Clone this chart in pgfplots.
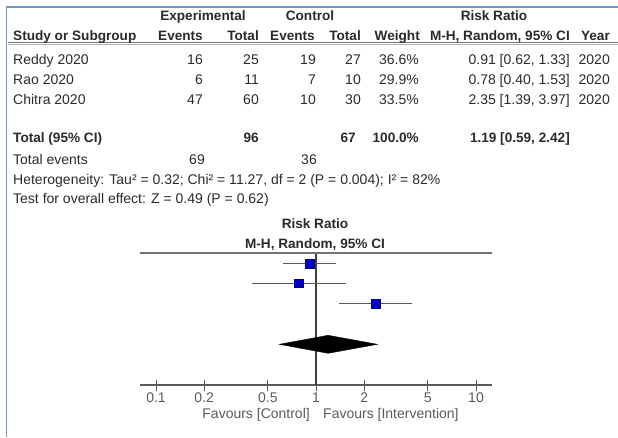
\documentclass[border=0pt]{standalone}
\usepackage{pgfplots}
\pgfplotsset{compat=1.18}
\usepackage{fontspec}
\setmainfont{Liberation Sans}
\definecolor{txt}{HTML}{2A2A2A}
\definecolor{bord}{HTML}{7096C8}
\definecolor{lgray}{HTML}{5A5A5A}
\definecolor{sqblue}{HTML}{0000C8}
\newcommand\fs{\fontsize{14}{16}\selectfont}
\newcommand\fb{\fontsize{13.6}{16}\selectfont}
\newcommand\T[4]{\node[anchor=#3] at (#1,#2) {#4};}
\newcommand\B[4]{\node[anchor=#3] at (#1,#2) {\fb\bfseries #4};}

\begin{document}
\begin{tikzpicture}
\useasboundingbox (0,0) rectangle (618pt,-437pt);
\begin{scope}[x=1pt,y=-1pt, every node/.style={font=\fs, text=txt, inner sep=0pt}]
% frame
\draw[bord, line width=1.5pt] (6,7) -- (618,7);
\draw[bord, line width=1.5pt] (6.5,7) -- (6.5,437);
\draw[black!55, line width=1.6pt] (8,42.5) -- (618,42.5);
\draw[black!30, line width=1pt] (8,44.6) -- (618,44.6);
% headers
\B{203}{20}{base}{Experimental}
\B{310}{20}{base}{Control}
\B{494}{20}{base}{Risk Ratio}
\B{13}{40}{base west}{Study or Subgroup}
\B{203}{40}{base east}{Events}
\B{259}{40}{base east}{Total}
\B{315}{40}{base east}{Events}
\B{361}{40}{base east}{Total}
\B{420}{40}{base east}{Weight}
\B{570}{40}{base east}{M-H, Random, 95\% CI}
\B{610}{40}{base east}{Year}
% rows
\T{13}{64.5}{base west}{Reddy 2020}
\T{203}{64.5}{base east}{16}
\T{259}{64.5}{base east}{25}
\T{316}{64.5}{base east}{19}
\T{361}{64.5}{base east}{27}
\T{419}{64.5}{base east}{36.6\%}
\T{570}{64.5}{base east}{0.91 [0.62, 1.33]}
\T{610}{64.5}{base east}{2020}
\T{13}{84.5}{base west}{Rao 2020}
\T{203}{84.5}{base east}{6}
\T{259}{84.5}{base east}{11}
\T{316}{84.5}{base east}{7}
\T{361}{84.5}{base east}{10}
\T{419}{84.5}{base east}{29.9\%}
\T{570}{84.5}{base east}{0.78 [0.40, 1.53]}
\T{610}{84.5}{base east}{2020}
\T{13}{104.5}{base west}{Chitra 2020}
\T{203}{104.5}{base east}{47}
\T{259}{104.5}{base east}{60}
\T{316}{104.5}{base east}{10}
\T{361}{104.5}{base east}{30}
\T{419}{104.5}{base east}{33.5\%}
\T{570}{104.5}{base east}{2.35 [1.39, 3.97]}
\T{610}{104.5}{base east}{2020}
% total
\B{13}{142}{base west}{Total (95\% CI)}
\B{259}{142}{base east}{96}
\B{356}{142}{base east}{67}
\B{419}{142}{base east}{100.0\%}
\B{570}{142}{base east}{1.19 [0.59, 2.42]}
\T{13}{164.5}{base west}{Total events}
\T{205}{164.5}{base east}{69}
\T{317}{164.5}{base east}{36}
\T{13}{184}{base west}{Heterogeneity: Tau² = 0.32; Chi² = 11.27, df = 2 (P = 0.004); I² = 82\%}
\T{13}{203.5}{base west}{Test for overall effect: Z = 0.49 (P = 0.62)}
% plot headers
\B{315}{228}{base}{Risk Ratio}
\B{315}{248}{base}{M-H, Random, 95\% CI}
\node[anchor=base east, text=lgray] at (310,418) {Favours [Control]};
\node[anchor=base west, text=lgray] at (323,418) {Favours [Intervention]};
\end{scope}

\begin{axis}[at={(140pt,-385pt)}, anchor=south west, scale only axis,
  width=352pt, height=132pt, xmode=log, xmin=0.079433, xmax=12.589,
  ymin=-385, ymax=-253, axis x line*=bottom, axis y line=none,
  xtick={0.1,0.2,0.5,1,2,5,10}, xticklabels={0.1,0.2,0.5,1,2,5,10},
  minor xtick={}, tick align=center, major tick length=11pt,
  x axis line style={lgray, line width=1.4pt, -},
  xtick style={lgray, line width=1pt},
  xticklabel style={font=\fs, text=lgray, anchor=north, inner sep=0pt, yshift=-2pt},
  clip=false]
\addplot[black!75, line width=1.2pt] coordinates {(1,-385) (1,-253)};
\addplot[black!55, line width=2pt] coordinates {(0.079433,-253) (12.589,-253)};
\addplot[lgray, line width=1.3pt] coordinates {(0.62,-263.3) (1.33,-263.3)};
\addplot[lgray, line width=1.3pt] coordinates {(0.40,-283.3) (1.53,-283.3)};
\addplot[lgray, line width=1.3pt] coordinates {(1.39,-303.3) (3.97,-303.3)};
\addplot[only marks, mark=square*, mark size=4.6pt, mark options={fill=sqblue, draw=sqblue!70!black}] coordinates {(0.91,-263.3)};
\addplot[only marks, mark=square*, mark size=4.1pt, mark options={fill=sqblue, draw=sqblue!70!black}] coordinates {(0.78,-283.3)};
\addplot[only marks, mark=square*, mark size=4.4pt, mark options={fill=sqblue, draw=sqblue!70!black}] coordinates {(2.35,-303.3)};
\addplot[draw=black, fill=black] coordinates {(0.59,-344.3) (1.19,-335.3) (2.42,-344.3) (1.19,-353.3)} -- cycle;
\end{axis}
\end{tikzpicture}
\end{document}
